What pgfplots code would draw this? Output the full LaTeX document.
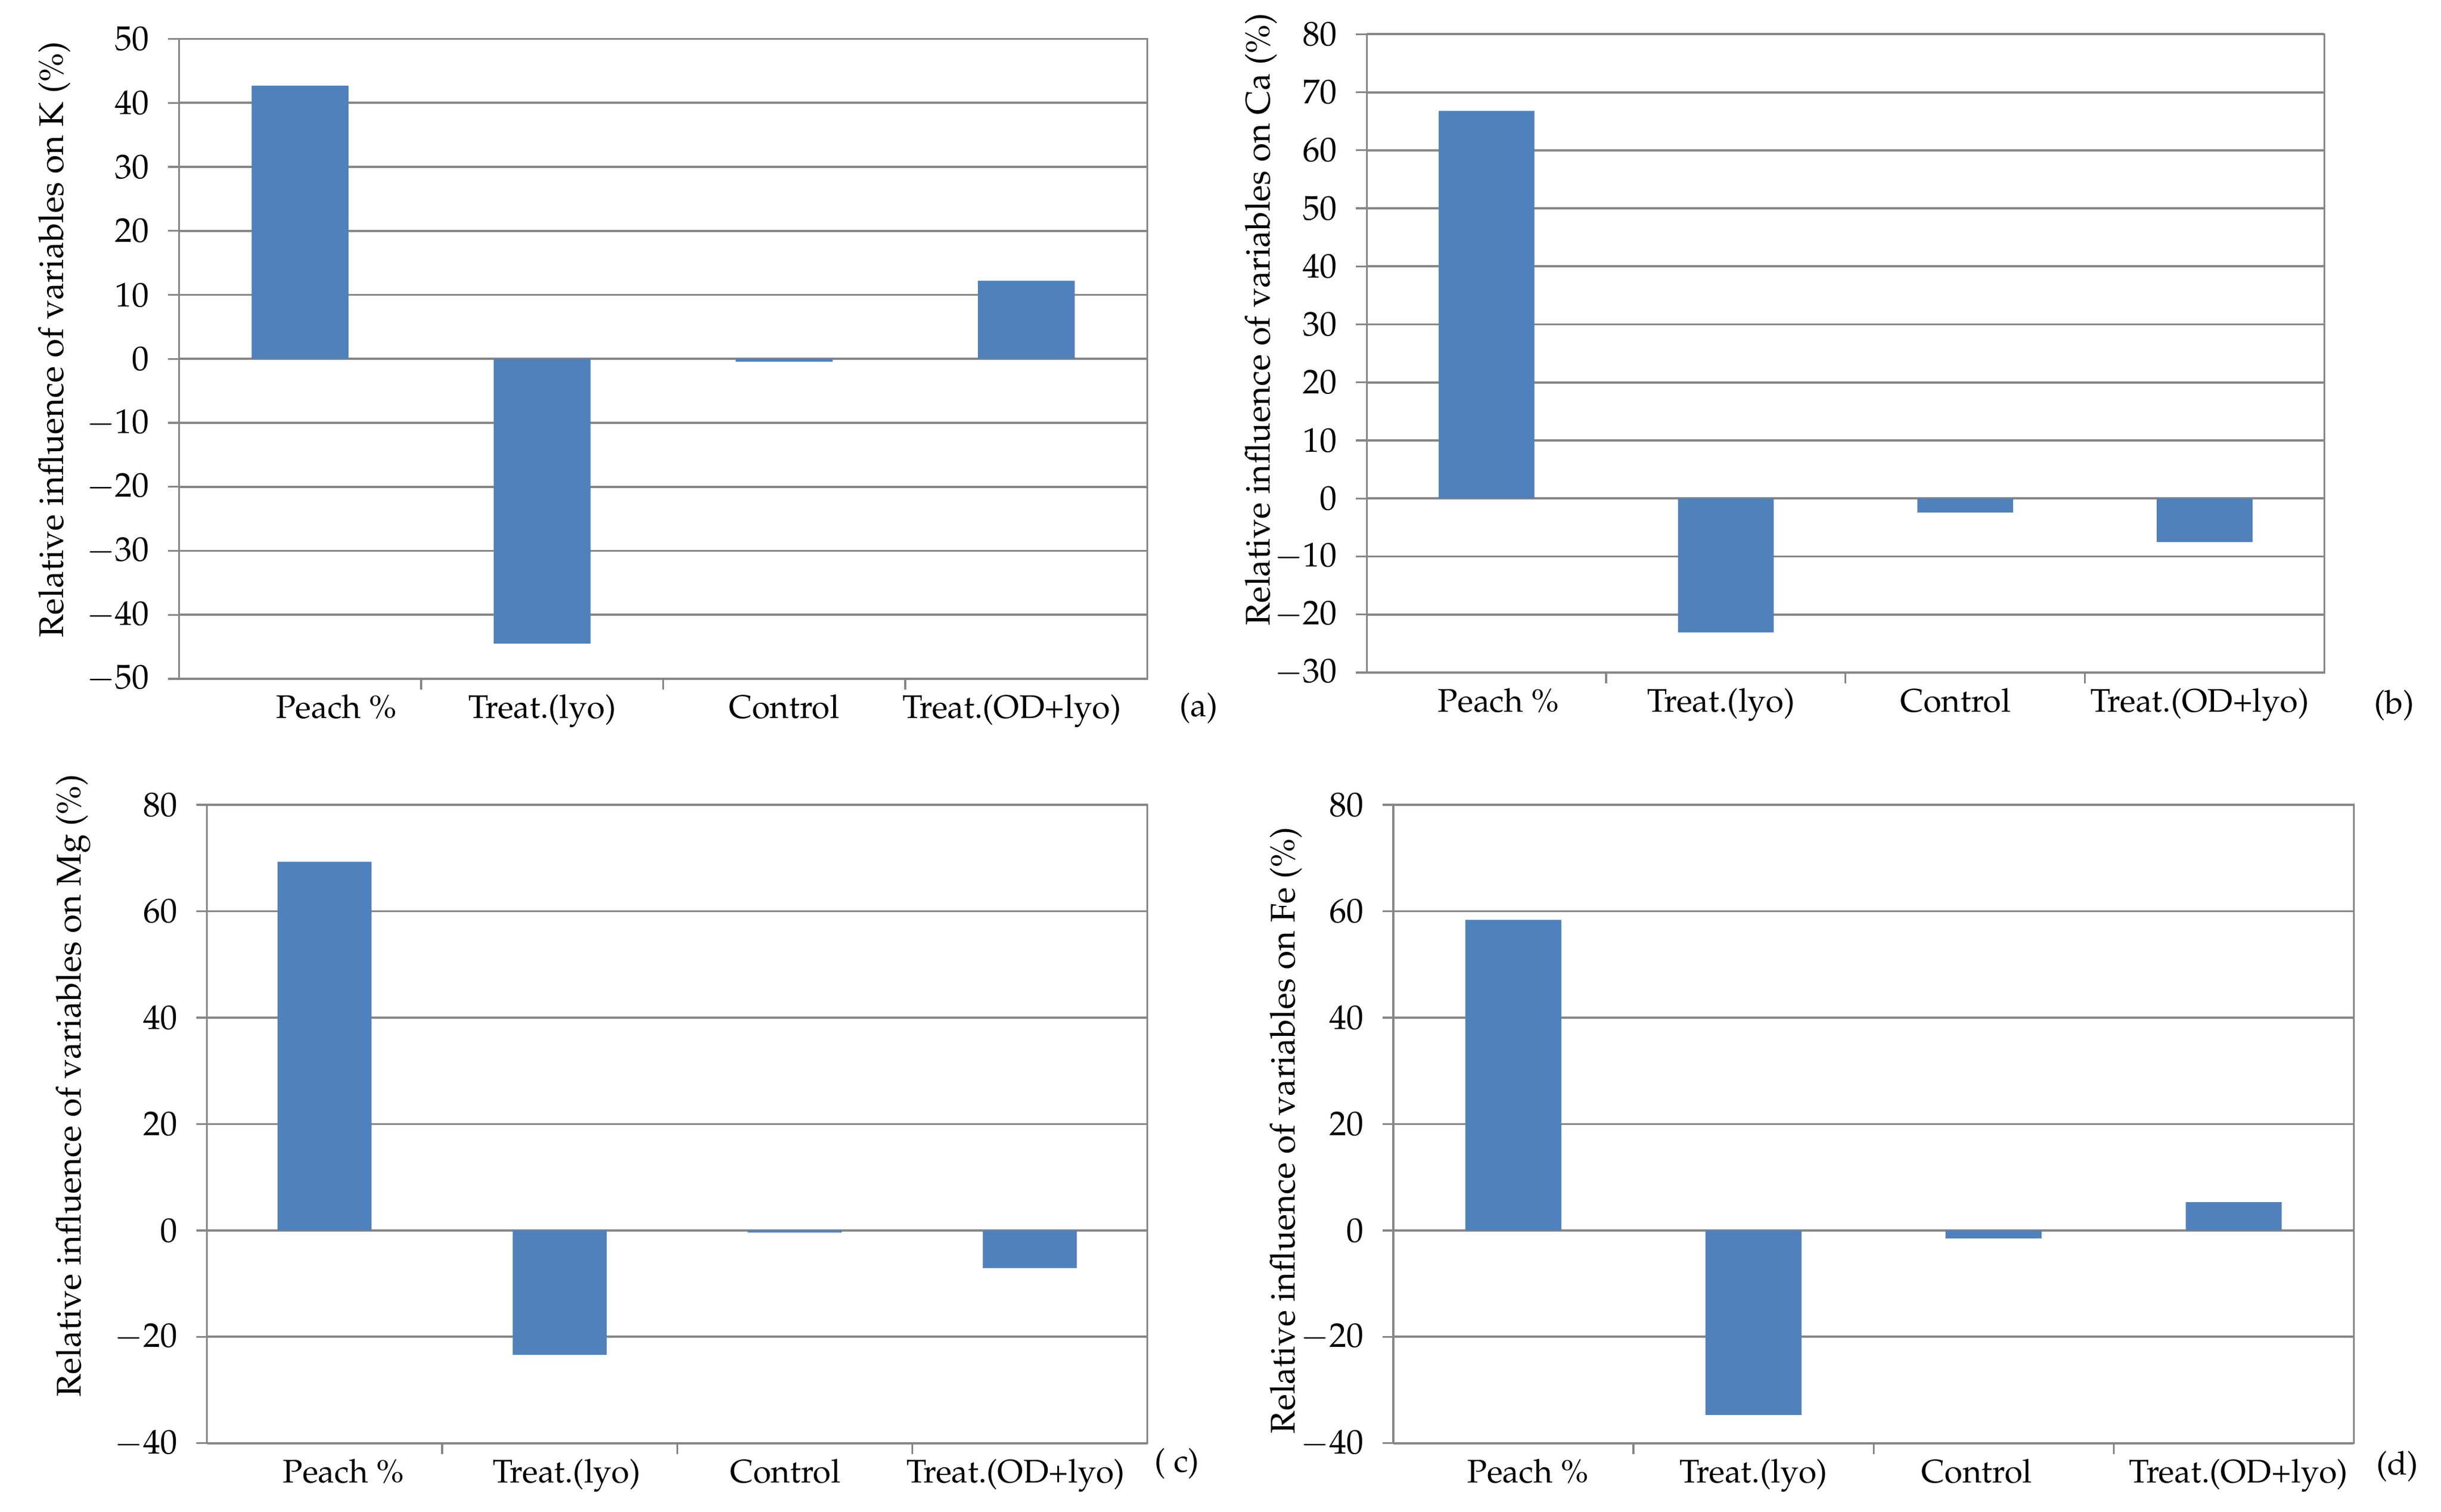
\documentclass[border=0pt]{standalone}
\usepackage[T1]{fontenc}
\usepackage{mathpazo}
\usepackage{pgfplots}
\pgfplotsset{compat=1.18}

\definecolor{barblue}{RGB}{79,129,189}
\definecolor{gridgray}{RGB}{134,134,134}

\tikzset{tag/.style={font=\fontsize{10.5}{12}\selectfont}}

% the y label is rotated, so its yshift moves it left and its xshift moves it up
\pgfplotsset{
  panel/.style={
    scale only axis,
    anchor=south west,
    xmin=0.5, xmax=4.5,
    xtick={1.5,2.5,3.5},
    xticklabels={},
    extra x tick labels={Peach \%, Treat.(lyo), Control, Treat.(OD+lyo)},
    extra x tick style={major tick length=0pt,
      xticklabel style={yshift=-1.5pt, font=\fontsize{10.5}{12}\selectfont}},
    tick align=outside,
    xtick pos=bottom,
    ytick pos=left,
    major tick length=3.5pt,
    tick style={gridgray, line width=0.6pt},
    yticklabel style={font=\fontsize{11}{13}\selectfont, xshift=-2.5pt},
    ylabel style={font=\fontsize{11}{13}\selectfont},
    ymajorgrids=true,
    grid style={gridgray, line width=0.7pt},
    axis line style={gridgray, line width=0.6pt},
    ybar, bar width=0.4,
    clip=false,
  },
  bars/.style={fill=barblue, draw=none},
}

\begin{document}
\begin{tikzpicture}
\useasboundingbox (0,0) rectangle (784pt,485.5pt);

% (a) potassium
\begin{axis}[panel, at={(57.5pt,267.5pt)}, width=311pt, height=205.5pt,
  ymin=-50, ymax=50, ytick={-50,-40,...,50},
  extra x ticks={1.15,2,3,3.94},
  ylabel={Relative influence of variables on K (\%)},
  ylabel style={at={(axis description cs:0,0.53)}, anchor=center, yshift=40pt}]
  \addplot[bars] coordinates {(1,42.7) (2,-44.5) (3,-0.45) (4,12.2)};
  \node[tag] at (rel axis cs:1,0) [xshift=16.5pt, yshift=-9.5pt] {(a)};
\end{axis}

% (b) calcium
\begin{axis}[panel, at={(439pt,269.5pt)}, width=307.5pt, height=205pt,
  ymin=-30, ymax=80, ytick={-30,-20,...,80},
  extra x ticks={1.05,1.98,2.96,3.98},
  ylabel={Relative influence of variables on Ca (\%)},
  ylabel style={at={(axis description cs:0,0.553)}, anchor=center, yshift=34pt}]
  \addplot[bars] coordinates {(1,66.8) (2,-23.1) (3,-2.4) (4,-7.5)};
  \node[tag] at (rel axis cs:1,0) [xshift=22.5pt, yshift=-10.5pt] {(b)};
\end{axis}

% (c) magnesium
\begin{axis}[panel, at={(66.5pt,22pt)}, width=302pt, height=205pt,
  ymin=-40, ymax=80, ytick={-40,-20,...,80},
  extra x ticks={1.08,2.03,2.96,3.94},
  ylabel={Relative influence of variables on Mg (\%)},
  ylabel style={at={(axis description cs:0,0.56)}, anchor=center, yshift=43pt}]
  \addplot[bars] coordinates {(1,69.3) (2,-23.4) (3,-0.4) (4,-7.1)};
  \node[tag] at (rel axis cs:1,0) [xshift=9.5pt, yshift=-6.5pt] {( c)};
\end{axis}

% (d) iron
\begin{axis}[panel, at={(447.5pt,22pt)}, width=308.5pt, height=205pt,
  ymin=-40, ymax=80, ytick={-40,-20,...,80},
  extra x ticks={1.06,2,2.93,4.02},
  ylabel={Relative influence of variables on Fe (\%)},
  ylabel style={at={(axis description cs:0,0.49)}, anchor=center, yshift=34.5pt}]
  \addplot[bars] coordinates {(1,58.4) (2,-34.7) (3,-1.5) (4,5.3)};
  \node[tag] at (rel axis cs:1,0) [xshift=14pt, yshift=-7.5pt] {(d)};
\end{axis}
\end{tikzpicture}
\end{document}
